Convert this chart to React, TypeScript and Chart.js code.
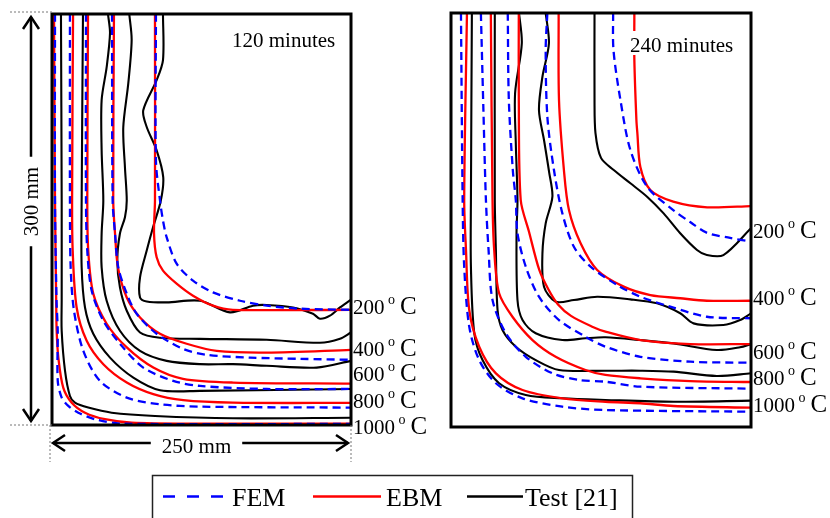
import React, { useEffect, useRef } from "react";
import { Chart, registerables } from "chart.js";

Chart.register(...registerables);

const SERIF = "'Liberation Serif', 'Times New Roman', serif";

// ---- categories ----
const methodNames = ["FEM", "EBM", "Test [21]"];
const isothermLabels = ["200", "400", "600", "800", "1000"];
const panelTitles = ["120 minutes", "240 minutes"];

// ---- isotherm label heights (mm from the bottom face) ----
const labelY120 = [86.3, 56.0, 37.3, 17.8, -1.3];
const labelY240 = [142.7, 93.8, 54.6, 36.1, 16.3];

// ---- 120 minutes : [x mm, y mm] ----
const FEM_120_1000 = [[2.5, 300], [2.5, 163.9], [3.8, 90.7], [4.8, 68.8], [4.8, 32.2], [8.1, 20.0], [13.6, 13.9], [22.0, 9.0], [35.9, 4.2], [58.3, 1.0], [250, 0.8]];
const EBM_120_1000 = [[1.7, 300], [2.5, 163.9], [3.5, 90.7], [3.9, 68.8], [5.3, 49.2], [9.4, 27.3], [16.5, 16.3], [27.6, 9.0], [44.3, 4.2], [66.6, 1.7], [120, 1.0], [250, 1.0]];
const TEST_120_1000 = [[7.5, 300], [8.1, 163.9], [8.1, 90.7], [8.1, 68.8], [10.9, 39.5], [15.0, 21.2], [19.2, 16.3], [30.3, 12.7], [49.9, 9.0], [86.1, 6.6], [151.3, 4.9], [250, 5.3]];

const FEM_120_800 = [[15.0, 300], [15.0, 163.9], [15.6, 115.1], [18.4, 83.4], [26.2, 54.1], [40.1, 32.2], [62.5, 20.0], [90.3, 15.1], [123.7, 13.4], [250, 12.7]];
const EBM_120_800 = [[17.6, 300], [16.8, 163.9], [17.3, 127.3], [20.6, 85.8], [29.0, 61.5], [42.9, 44.4], [62.5, 31.0], [84.7, 22.5], [109.8, 18.1], [151.3, 16.3], [250, 16.1]];
const TEST_120_800 = [[25.9, 300], [24.8, 163.9], [24.8, 115.1], [27.6, 85.8], [34.5, 66.6], [48.5, 49.2], [68.0, 34.6], [90.3, 25.4], [123.7, 24.9], [250, 26.3]];

const FEM_120_600 = [[28.4, 300], [28.4, 163.9], [29.5, 127.3], [33.2, 98.0], [42.9, 76.1], [56.8, 59.3], [76.3, 41.9], [101.4, 32.2], [123.7, 28.5], [179.5, 26.3], [250, 26.3]];
const EBM_120_600 = [[30.1, 300], [29.5, 163.9], [30.3, 127.3], [34.5, 95.9], [45.7, 73.9], [62.5, 56.6], [84.7, 41.9], [109.5, 33.7], [151.3, 31.0], [250, 30.2]];
const TEST_120_600 = [[46.8, 300], [48.5, 286.1], [45.7, 261.2], [41.5, 237.1], [41.5, 200.5], [42.9, 163.9], [41.5, 139.8], [41.5, 115.1], [45.7, 90.7], [56.8, 68.8], [73.6, 54.1], [95.9, 46.8], [123.7, 44.4], [151.3, 44.4], [179.5, 43.2], [221.3, 41.9], [250, 46.8]];

const FEM_120_400 = [[50.2, 300], [50.7, 163.9], [52.7, 139.8], [55.4, 115.1], [62.5, 95.9], [70.8, 81.2], [87.5, 66.6], [109.5, 55.6], [129.3, 51.2], [165.5, 49.2], [207.3, 48.3], [250, 47.6]];
const EBM_120_400 = [[51.8, 300], [51.2, 163.9], [52.7, 139.8], [55.2, 114.9], [62.5, 93.1], [73.6, 78.5], [90.3, 66.6], [112.6, 59.3], [137.7, 54.1], [179.5, 52.9], [250, 54.9]];
const TEST_120_400 = [[64.6, 300], [66.6, 281.0], [63.8, 249.5], [59.6, 217.3], [61.0, 188.0], [62.5, 163.9], [61.0, 151.7], [56.8, 139.8], [54.6, 120.0], [56.8, 100.5], [62.5, 83.4], [73.6, 67.5], [90.3, 63.7], [123.7, 62.9], [179.5, 62.2], [224.0, 60.0], [240.8, 62.9], [250, 67.5]];

const FEM_120_200 = [[86.9, 300], [86.9, 193.1], [90.3, 163.9], [92.8, 149.3], [95.9, 137.0], [104.2, 117.8], [117.9, 105.4], [134.6, 96.8], [157.2, 90.7], [179.5, 87.1], [207.3, 84.9], [250, 84.1]];
const EBM_120_200 = [[86.1, 300], [86.1, 163.9], [85.3, 139.8], [87.5, 122.4], [92.8, 112.7], [104.2, 103.2], [117.9, 94.4], [134.6, 87.1], [151.3, 84.1], [250, 84.1]];
const TEST_120_200 = [[92.8, 300], [92.8, 266.3], [87.5, 251.7], [76.3, 229.7], [79.2, 217.5], [87.5, 200.5], [93.0, 180.9], [91.0, 163.9], [84.4, 144.1], [79.2, 127.3], [73.6, 107.8], [73.6, 93.1], [79.2, 90.2], [95.9, 89.5], [123.7, 90.7], [148.8, 82.2], [168.0, 87.1], [179.5, 87.6], [201.5, 85.8], [218.2, 81.2], [224.0, 77.6], [232.4, 79.8], [240.8, 85.8], [250, 91.5]];

// ---- 240 minutes : [x mm, y mm] ----
const FEM_240_1000 = [[8.3, 300], [9.7, 164.5], [11.0, 116.2], [15.2, 72.7], [23.5, 48.5], [37.4, 31.7], [59.6, 20.8], [92.8, 14.7], [128.7, 12.3], [250, 11.1]];
const EBM_240_1000 = [[13.3, 300], [11.0, 164.5], [12.5, 128.3], [15.2, 84.8], [23.5, 58.2], [37.4, 38.9], [59.6, 26.8], [92.8, 20.8], [128.7, 18.3], [157.8, 17.2], [185.5, 15.2], [250, 14.0]];
const TEST_240_1000 = [[17.4, 300], [16.6, 164.5], [16.6, 116.2], [19.4, 67.9], [26.3, 48.5], [40.1, 31.7], [62.3, 23.2], [92.8, 20.8], [128.7, 19.6], [185.5, 18.3], [250, 19.1]];

const FEM_240_800 = [[24.9, 300], [27.0, 230], [29.1, 164.5], [31.3, 128.3], [34.6, 92.0], [45.7, 67.9], [62.3, 50.9], [84.5, 38.9], [106.6, 34.1], [128.7, 32.8], [157.8, 29.2], [250, 27.8]];
const EBM_240_800 = [[33.2, 300], [34.6, 164.5], [36.0, 128.3], [40.1, 96.9], [51.2, 79.9], [67.9, 63.0], [87.2, 50.9], [112.1, 41.3], [128.7, 37.7], [157.8, 35.3], [199.3, 33.3], [250, 32.6]];
const TEST_240_800 = [[36.5, 300], [36.5, 164.5], [37.4, 128.3], [38.8, 84.8], [42.9, 70.3], [54.0, 58.2], [70.6, 48.5], [90.0, 41.3], [128.7, 40.8], [157.8, 40.8], [185.5, 40.1], [221.5, 37.0], [250, 38.9]];

const FEM_240_600 = [[47.3, 300], [48.2, 236.9], [51.5, 186.2], [54.0, 164.5], [55.4, 140.4], [62.3, 116.2], [73.3, 94.4], [90.0, 77.5], [112.1, 65.4], [128.7, 58.2], [157.8, 50.9], [199.3, 47.3], [250, 46.6]];
const EBM_240_600 = [[56.5, 300], [56.5, 236.9], [58.1, 164.5], [65.0, 141.5], [73.5, 114.0], [81.0, 100.0], [89.0, 89.0], [100.0, 80.5], [117.7, 72.7], [128.7, 69.1], [157.8, 63.0], [199.3, 60.1], [250, 60.1]];
const TEST_240_600 = [[56.7, 300], [59.0, 278.0], [53.4, 241.8], [54.0, 205.8], [55.4, 164.5], [54.6, 140.4], [55.4, 92.0], [59.6, 77.5], [70.6, 67.9], [92.8, 63.0], [112.1, 64.3], [128.7, 65.0], [157.8, 63.0], [185.5, 60.6], [221.5, 55.8], [240.9, 57.8], [250, 60.1]];

const FEM_240_400 = [[80.3, 300], [78.9, 273.2], [80.3, 224.8], [85.8, 186.2], [92.8, 154.8], [102.4, 130.6], [116.3, 116.2], [138.5, 102.9], [157.8, 94.4], [182.7, 87.2], [213.2, 79.9], [250, 78.8]];
const EBM_240_400 = [[89.7, 300], [90.0, 236.9], [94.1, 186.2], [98.3, 157.2], [108.0, 133.1], [121.8, 113.8], [143.9, 101.7], [166.1, 95.6], [191.0, 93.3], [213.2, 91.5], [250, 91.5]];
const TEST_240_400 = [[78.9, 300], [81.6, 278.0], [76.2, 253.8], [73.3, 229.7], [77.5, 208.0], [81.8, 184.5], [84.5, 166.9], [78.9, 147.6], [76.2, 125.9], [77.5, 101.7], [87.2, 90.8], [102.4, 92.0], [121.8, 94.4], [149.5, 92.5], [171.7, 89.6], [191.0, 82.4], [202.1, 75.1], [227.0, 73.9], [240.9, 77.5], [250, 82.4]];

const FEM_240_200 = [[135.1, 300], [135.4, 273.2], [141.2, 236.9], [149.5, 200.7], [163.6, 173.9], [185.2, 157.2], [199.3, 148.5], [213.5, 140.6], [232.6, 137.0], [250, 134.3]];
const EBM_240_200 = [[152.8, 300], [152.8, 265.9], [154.5, 222.5], [155.3, 213.0], [157.8, 188.4], [166.1, 171.7], [185.2, 163.3], [213.5, 159.2], [250, 160.1]];
const TEST_240_200 = [[119.6, 300], [119.6, 236.9], [120.4, 213.0], [125.0, 195.0], [135.6, 186.2], [149.5, 176.6], [163.4, 166.9], [177.2, 154.8], [191.0, 140.4], [205.0, 128.3], [213.2, 124.6], [227.0, 124.6], [250, 144.0]];

// groups: [method][isotherm 200..1000]
const curves120 = [
  [FEM_120_200, FEM_120_400, FEM_120_600, FEM_120_800, FEM_120_1000],
  [EBM_120_200, EBM_120_400, EBM_120_600, EBM_120_800, EBM_120_1000],
  [TEST_120_200, TEST_120_400, TEST_120_600, TEST_120_800, TEST_120_1000],
];
const curves240 = [
  [FEM_240_200, FEM_240_400, FEM_240_600, FEM_240_800, FEM_240_1000],
  [EBM_240_200, EBM_240_400, EBM_240_600, EBM_240_800, EBM_240_1000],
  [TEST_240_200, TEST_240_400, TEST_240_600, TEST_240_800, TEST_240_1000],
];

// ---- styles ----
const methodColor = ["#0000ff", "#ff0000", "#000000"];
const methodDash = [[8, 5], [], []];
const methodWidth = [2.3, 2.3, 2.1];

const W = 830;
const H = 518;

function buildDatasets(curves: number[][][][]) {
  const ds: any[] = [];
  curves.forEach((group, m) => {
    group.forEach((pts, i) => {
      ds.push({
        label: methodNames[m] + " " + isothermLabels[i],
        data: pts.map(([x, y]) => ({ x, y })),
        showLine: true,
        borderColor: methodColor[m],
        backgroundColor: methodColor[m],
        borderWidth: methodWidth[m],
        borderDash: methodDash[m],
        pointRadius: 0,
        tension: 0.3,
        fill: false,
      });
    });
  });
  return ds;
}

function drawTempLabel(ctx: CanvasRenderingContext2D, x: number, cy: number, t: string) {
  const base = cy + 7.5;
  ctx.fillStyle = "#000";
  ctx.textAlign = "left";
  ctx.textBaseline = "alphabetic";
  ctx.font = `21px ${SERIF}`;
  ctx.fillText(t, x, base);
  let cx = x + ctx.measureText(t).width + 3.5;
  ctx.font = `14px ${SERIF}`;
  ctx.fillText("o", cx, base - 10);
  cx += ctx.measureText("o").width + 5;
  ctx.font = `25px ${SERIF}`;
  ctx.fillText("C", cx, base);
}

function head(ctx: CanvasRenderingContext2D, tx: number, ty: number, ux: number, uy: number) {
  const L = 12;
  const S = 8;
  const bx = tx - ux * L;
  const by = ty - uy * L;
  const px = -uy;
  const py = ux;
  ctx.beginPath();
  ctx.moveTo(bx + px * S, by + py * S);
  ctx.lineTo(tx, ty);
  ctx.lineTo(bx - px * S, by - py * S);
  ctx.stroke();
}

function panelPlugin(title: string, titleOff: [number, number], labelY: number[]) {
  return {
    id: "panelDecor",
    afterDatasetsDraw(chart: any) {
      const { ctx, chartArea: a, scales } = chart;
      const ys = scales.y;
      ctx.save();
      ctx.font = `21px ${SERIF}`;
      const tw = ctx.measureText(title).width;
      const tx = a.left + titleOff[0];
      const ty = a.top + titleOff[1];
      ctx.fillStyle = "#fff";
      ctx.fillRect(tx - 2, ty - 21, tw + 4, 24);
      ctx.fillStyle = "#000";
      ctx.textAlign = "left";
      ctx.textBaseline = "alphabetic";
      ctx.fillText(title, tx, ty);
      ctx.strokeStyle = "#000";
      ctx.lineWidth = 3;
      ctx.setLineDash([]);
      ctx.strokeRect(a.left, a.top, a.right - a.left, a.bottom - a.top);
      labelY.forEach((v, i) => drawTempLabel(ctx, a.right + 2, ys.getPixelForValue(v), isothermLabels[i]));
      ctx.restore();
    },
  };
}

const annotationPlugin = {
  id: "dimsLegend",
  afterDraw(chart: any) {
    const { ctx, chartArea: a } = chart;
    ctx.save();
    ctx.strokeStyle = "#777";
    ctx.lineWidth = 1;
    ctx.setLineDash([2, 2]);
    ctx.beginPath();
    ctx.moveTo(10, a.top - 2);
    ctx.lineTo(a.left, a.top - 2);
    ctx.moveTo(10, a.bottom);
    ctx.lineTo(a.left, a.bottom);
    ctx.moveTo(a.left - 2, a.bottom);
    ctx.lineTo(a.left - 2, a.bottom + 37);
    ctx.moveTo(a.right, a.bottom);
    ctx.lineTo(a.right, a.bottom + 37);
    ctx.stroke();
    ctx.setLineDash([]);

    ctx.strokeStyle = "#000";
    ctx.fillStyle = "#000";
    ctx.lineWidth = 2.5;
    ctx.font = `21px ${SERIF}`;

    const vx = a.left - 21;
    const vTop = a.top + 3;
    const vBot = a.bottom - 4;
    const vMid = (a.top + a.bottom) / 2 - 18;
    const vText = "300 mm";
    const vHalf = ctx.measureText(vText).width / 2 + 10;
    ctx.beginPath();
    ctx.moveTo(vx, vTop);
    ctx.lineTo(vx, vMid - vHalf);
    ctx.moveTo(vx, vMid + vHalf);
    ctx.lineTo(vx, vBot);
    ctx.stroke();
    head(ctx, vx, vTop, 0, -1);
    head(ctx, vx, vBot, 0, 1);
    ctx.save();
    ctx.translate(vx + 7, vMid);
    ctx.rotate(-Math.PI / 2);
    ctx.textAlign = "center";
    ctx.textBaseline = "alphabetic";
    ctx.fillText(vText, 0, 0);
    ctx.restore();

    const hy = a.bottom + 18;
    const hL = a.left + 1;
    const hR = a.right - 3;
    const hMid = (a.left + a.right) / 2 - 5;
    const hText = "250 mm";
    const hHalf = ctx.measureText(hText).width / 2 + 11;
    ctx.beginPath();
    ctx.moveTo(hL, hy);
    ctx.lineTo(hMid - hHalf, hy);
    ctx.moveTo(hMid + hHalf, hy);
    ctx.lineTo(hR, hy);
    ctx.stroke();
    head(ctx, hL, hy, -1, 0);
    head(ctx, hR, hy, 1, 0);
    ctx.textAlign = "center";
    ctx.textBaseline = "alphabetic";
    ctx.fillText(hText, hMid, hy + 10);

    ctx.lineWidth = 1.5;
    ctx.strokeStyle = "#222";
    ctx.strokeRect(152.5, 475.5, 480, 60);
    const items = [
      { x0: 163, x1: 223, tx: 232 },
      { x0: 313, x1: 381, tx: 386 },
      { x0: 467, x1: 523, tx: 525 },
    ];
    ctx.font = `26px ${SERIF}`;
    ctx.textAlign = "left";
    items.forEach((it, m) => {
      ctx.strokeStyle = methodColor[m];
      ctx.lineWidth = 2.5;
      ctx.setLineDash(m === 0 ? [12, 12] : []);
      ctx.beginPath();
      ctx.moveTo(it.x0, 496.5);
      ctx.lineTo(it.x1, 496.5);
      ctx.stroke();
      ctx.setLineDash([]);
      ctx.fillStyle = "#000";
      ctx.fillText(methodNames[m], it.tx, 506);
    });
    ctx.restore();
  },
};

function makeConfig(curves: number[][][][], padding: any, plugins: any[]) {
  return {
    type: "scatter" as const,
    data: { datasets: buildDatasets(curves) },
    options: {
      animation: false as const,
      responsive: false,
      maintainAspectRatio: false,
      devicePixelRatio: 1,
      events: [],
      layout: { padding },
      plugins: { legend: { display: false }, tooltip: { enabled: false } },
      scales: {
        x: { type: "linear" as const, min: 0, max: 250, display: false },
        y: { type: "linear" as const, min: 0, max: 300, display: false },
      },
    },
    plugins,
  };
}

export default function App() {
  const leftRef = useRef<HTMLCanvasElement>(null);
  const rightRef = useRef<HTMLCanvasElement>(null);

  useEffect(() => {
    const left = new Chart(
      leftRef.current as HTMLCanvasElement,
      makeConfig(curves120, { left: 52, top: 14, right: W - 351, bottom: H - 425 }, [
        panelPlugin(panelTitles[0], [180, 33], labelY120),
        annotationPlugin,
      ]) as any
    );
    const right = new Chart(
      rightRef.current as HTMLCanvasElement,
      makeConfig(curves240, { left: 451, top: 13, right: W - 751, bottom: H - 427 }, [
        panelPlugin(panelTitles[1], [179, 39], labelY240),
      ]) as any
    );
    return () => {
      left.destroy();
      right.destroy();
    };
  }, []);

  const cs: React.CSSProperties = { position: "absolute", left: 0, top: 0, display: "block" };
  return (
    <div style={{ position: "fixed", left: 0, top: 0, width: W, height: H, background: "#fff" }}>
      <canvas ref={leftRef} width={W} height={H} style={cs} />
      <canvas ref={rightRef} width={W} height={H} style={cs} />
    </div>
  );
}
